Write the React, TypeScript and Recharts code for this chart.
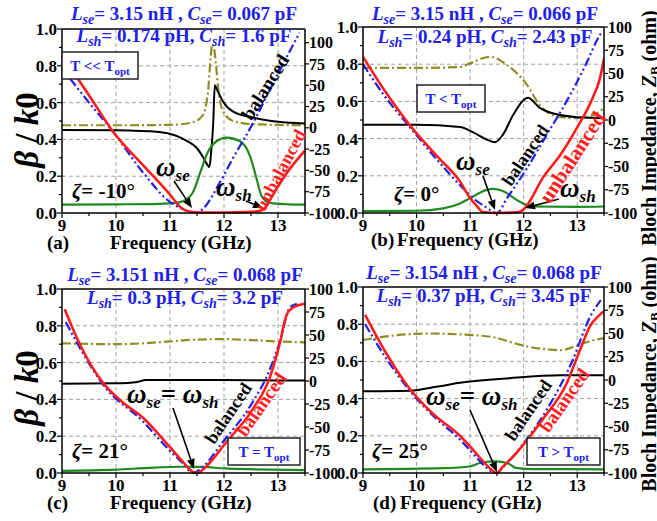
import React from "react";
import { LineChart, Line, XAxis, YAxis, CartesianGrid, ReferenceLine } from "recharts";

type Pt = [number, number];

const FONT = "'Liberation Serif', 'Times New Roman', Times, serif";
const BLUE = "#2020e8";
const RED = "#ff1c1c";
const GREEN = "#1e8a1e";
const OLIVE = "#8e8e24";

const freqTicks = [9, 9.5, 10, 10.5, 11, 11.5, 12, 12.5, 13, 13.5];
const betaTicks = [0, 0.1, 0.2, 0.3, 0.4, 0.5, 0.6, 0.7, 0.8, 0.9, 1];
const zTicks = [-100, -75, -50, -25, 0, 25, 50, 75, 100];

// circuit parameters per panel (a..d)
const lse = ["3.15", "3.15", "3.151", "3.154"];
const cse = ["0.067", "0.066", "0.068", "0.068"];
const lsh = ["0.174", "0.24", "0.3", "0.37"];
const csh = ["1.6", "2.43", "3.2", "3.45"];
const zetas = ["-10", "0", "21", "25"];
const tRel = ["<<", "<", "=", ">"];
const letters = ["(a)", "(b)", "(c)", "(d)"];

// (a) zeta = -10
const aBlue: Pt[] = [[9.15, 0.73], [9.5, 0.6], [9.95, 0.44], [10.5, 0.22], [11.0, 0.06], [11.25, 0.02], [11.45, 0], [11.6, 0.02], [11.93, 0.17], [12.17, 0.3], [12.54, 0.49], [12.9, 0.7], [13.22, 0.88], [13.4, 0.98]];
const aRed: Pt[] = [[9.2, 0.77], [9.5, 0.64], [9.95, 0.44], [10.5, 0.26], [11.0, 0.1], [11.2, 0.03], [11.35, 0.008], [11.6, 0.003], [12.0, 0.003], [12.4, 0.005], [12.65, 0.01], [12.75, 0.025], [12.85, 0.07], [12.95, 0.12], [13.17, 0.22], [13.5, 0.34]];
const aBlack: Pt[] = [[9, -2.5], [10, -3], [10.8, -5], [11.1, -9], [11.3, -15], [11.5, -24], [11.6, -33], [11.7, -44], [11.73, -46], [11.76, -30], [11.8, 5], [11.83, 50], [11.87, 45], [11.98, 31], [12.17, 19], [12.54, 12], [13.0, 7], [13.5, 5]];
const aOlive: Pt[] = [[9, 3], [10, 3], [11, 3.5], [11.4, 6], [11.6, 14], [11.7, 40], [11.75, 80], [11.78, 98], [11.81, 95], [11.85, 75], [11.9, 42], [11.98, 20], [12.17, 8], [12.6, 4], [13.5, 3]];
const aGreen: Pt[] = [[9, 0.045], [10, 0.047], [10.8, 0.05], [11.1, 0.055], [11.25, 0.065], [11.43, 0.115], [11.56, 0.22], [11.7, 0.33], [11.86, 0.39], [12.05, 0.41], [12.3, 0.39], [12.48, 0.31], [12.6, 0.19], [12.7, 0.09], [12.85, 0.055], [13.2, 0.047], [13.5, 0.045]];

// (b) zeta = 0
const bBlue: Pt[] = [[9, 0.8], [9.4, 0.63], [9.88, 0.46], [10.4, 0.28], [10.81, 0.15], [11.1, 0.07], [11.3, 0.03], [11.5, 0], [11.69, 0.08], [12.06, 0.24], [12.43, 0.42], [12.8, 0.6], [13.18, 0.81], [13.37, 0.93], [13.45, 0.97]];
const bRed: Pt[] = [[9, 0.84], [9.4, 0.66], [9.88, 0.47], [10.4, 0.3], [10.81, 0.17], [11.0, 0.08], [11.12, 0.04], [11.24, 0.005], [11.5, 0], [11.9, 0.005], [12.0, 0.02], [12.06, 0.04], [12.36, 0.19], [12.68, 0.31], [13.0, 0.46], [13.29, 0.62], [13.42, 0.72], [13.5, 0.83]];
const bBlack: Pt[] = [[9, -5], [10, -5], [10.81, -7.5], [11.05, -13], [11.31, -21], [11.46, -24], [11.61, -16], [11.8, 5], [11.99, 21], [12.08, 24], [12.3, 13], [12.49, 8], [13, 3], [13.5, 2]];
const bOlive: Pt[] = [[9, 56], [10, 56], [10.81, 57], [11, 61], [11.37, 68], [11.69, 59], [12.06, 38], [12.3, 16], [12.55, 5], [12.93, 2], [13.29, 5], [13.5, 13]];
const bGreen: Pt[] = [[9, 0.01], [10, 0.012], [10.5, 0.025], [10.8, 0.05], [11.0, 0.08], [11.31, 0.124], [11.43, 0.13], [11.6, 0.12], [11.93, 0.06], [12.17, 0.035], [13, 0.033], [13.5, 0.035]];

// (c) zeta = 21
const cBlue: Pt[] = [[9.07, 0.82], [9.33, 0.68], [9.76, 0.48], [10.5, 0.28], [11.0, 0.12], [11.25, 0.05], [11.42, 0], [11.6, 0.03], [11.93, 0.15], [12.54, 0.39], [12.8, 0.53], [13.03, 0.71], [13.22, 0.9], [13.35, 0.92]];
const cRed: Pt[] = [[9.05, 0.89], [9.33, 0.7], [9.76, 0.49], [10.1, 0.39], [10.5, 0.3], [11.0, 0.14], [11.24, 0.06], [11.43, 0.005], [11.52, 0], [11.6, 0.016], [12.05, 0.17], [12.54, 0.35], [12.85, 0.52], [13.03, 0.7], [13.16, 0.86], [13.28, 0.9], [13.5, 0.92]];
const cBlack: Pt[] = [[9, -3], [10, -2.5], [10.4, -1], [10.55, 1], [11, 1], [12, 1], [13, 0.5], [13.5, 0.5]];
const cOlive: Pt[] = [[9, 41], [10, 40], [10.5, 41], [11, 43], [11.5, 45], [12, 45.5], [12.5, 44.5], [13, 43], [13.5, 42]];
const cGreen: Pt[] = [[9, 0.012], [10, 0.018], [10.6, 0.028], [11.2, 0.034], [11.6, 0.033], [12, 0.025], [12.6, 0.02], [13.5, 0.016]];

// (d) zeta = 25
const dBlue: Pt[] = [[9.04, 0.8], [9.4, 0.63], [9.88, 0.44], [10.3, 0.31], [10.81, 0.18], [11.1, 0.09], [11.3, 0.03], [11.48, 0], [11.65, 0.04], [12.0, 0.16], [12.43, 0.34], [12.92, 0.61], [13.24, 0.84], [13.44, 0.93]];
const dRed: Pt[] = [[9.04, 0.85], [9.4, 0.66], [9.88, 0.45], [10.3, 0.32], [10.81, 0.2], [11.1, 0.11], [11.3, 0.045], [11.43, 0.01], [11.5, 0], [11.6, 0.03], [11.87, 0.11], [12.36, 0.29], [12.8, 0.48], [13.05, 0.66], [13.24, 0.79], [13.42, 0.85], [13.5, 0.87]];
const dBlack: Pt[] = [[9, -12], [9.88, -11.5], [10.4, -7], [10.81, -3], [11.74, 2], [12.68, 5], [13.5, 5]];
const dOlive: Pt[] = [[9, 43], [9.6, 48], [10.2, 50], [10.81, 49], [11.44, 46], [11.74, 41], [12.07, 36], [12.43, 33], [12.7, 32], [12.99, 37], [13.25, 42], [13.5, 45]];
const dGreen: Pt[] = [[9, 0.02], [10.5, 0.026], [11.0, 0.035], [11.2, 0.055], [11.48, 0.062], [11.72, 0.05], [11.85, 0.028], [12.2, 0.021], [13.5, 0.02]];

const LW = 45;
const RW = 45;
const MT = 10;
const XH = 35;

const toData = (a: Pt[]) => a.map(([f, v]) => ({ f, v }));

const tickText = { fontFamily: FONT, fontWeight: 700, fill: "#000" } as const;

function LeftTick(p: any) {
  const v = p.payload.value;
  const major = Math.round(v * 10) % 2 === 0;
  return (
    <g>
      <line x1={p.ax - (major ? 5 : 3)} x2={p.ax} y1={p.y} y2={p.y} stroke="#000" strokeWidth={1.2} />
      {major && (
        <text x={p.ax - 5} y={p.y} dy="0.35em" textAnchor="end" fontSize={17} {...tickText}>
          {v.toFixed(1)}
        </text>
      )}
    </g>
  );
}

function RightTick(p: any) {
  const v = p.payload.value;
  return (
    <g>
      <line x1={p.ax} x2={p.ax + 4} y1={p.y} y2={p.y} stroke="#000" strokeWidth={1.2} />
      <text x={p.ax + 4} y={p.y} dy="0.35em" textAnchor="start" fontSize={16} {...tickText}>
        {v}
      </text>
    </g>
  );
}

function BottomTick(p: any) {
  const v = p.payload.value;
  const major = Number.isInteger(v);
  return (
    <g>
      <line x1={p.x} x2={p.x} y1={p.ay} y2={p.ay + (major ? 5 : 3)} stroke="#000" strokeWidth={1.2} />
      {major && (
        <text x={p.x} y={p.ay + 6} dy="0.71em" textAnchor="middle" fontSize={17} {...tickText}>
          {v}
        </text>
      )}
    </g>
  );
}

type Box = { l: number; r: number; t: number; b: number };

function Panel(props: {
  box: Box;
  zDomain: [number, number];
  blue: Pt[];
  red: Pt[];
  black: Pt[];
  olive: Pt[];
  green: Pt[];
}) {
  const { box, zDomain } = props;
  const W = box.r - box.l + LW + RW;
  const H = box.b - box.t + MT + XH;
  const rx = W - RW;
  const by = H - XH;
  const axisLine = { stroke: "#000", strokeWidth: 1.5 };
  return (
    <div style={{ position: "absolute", left: box.l - LW, top: box.t - MT }}>
      <LineChart width={W} height={H} margin={{ top: MT, right: 0, bottom: 0, left: 0 }}>
        <CartesianGrid
          yAxisId="b"
          stroke="#a0a0a0"
          strokeDasharray="4 3"
          horizontalValues={[0.2, 0.4, 0.6, 0.8]}
          verticalValues={[10, 11, 12, 13]}
        />
        <XAxis
          dataKey="f"
          type="number"
          domain={[9, 13.5]}
          ticks={freqTicks}
          interval={0}
          height={XH}
          allowDataOverflow
          tickLine={false}
          axisLine={axisLine}
          tick={(p: any) => <BottomTick {...p} ay={by} />}
        />
        <YAxis
          yAxisId="b"
          domain={[0, 1]}
          ticks={betaTicks}
          interval={0}
          width={LW}
          tickLine={false}
          axisLine={axisLine}
          tick={(p: any) => <LeftTick {...p} ax={LW} />}
        />
        <YAxis
          yAxisId="z"
          orientation="right"
          domain={zDomain}
          ticks={zTicks}
          interval={0}
          width={RW}
          allowDataOverflow
          tickLine={false}
          axisLine={axisLine}
          tick={(p: any) => <RightTick {...p} ax={rx} />}
        />
        <ReferenceLine yAxisId="b" y={1} stroke="#000" strokeWidth={1.5} />
        <Line yAxisId="z" data={toData(props.olive)} dataKey="v" type="monotone" stroke={OLIVE} strokeWidth={2.2} strokeDasharray="9 3 2 3" dot={false} activeDot={false} isAnimationActive={false} />
        <Line yAxisId="z" data={toData(props.black)} dataKey="v" type="monotone" stroke="#000" strokeWidth={2} dot={false} activeDot={false} isAnimationActive={false} />
        <Line yAxisId="b" data={toData(props.green)} dataKey="v" type="monotone" stroke={GREEN} strokeWidth={2.2} dot={false} activeDot={false} isAnimationActive={false} />
        <Line yAxisId="b" data={toData(props.blue)} dataKey="v" type="monotone" stroke={BLUE} strokeWidth={2.2} strokeDasharray="9 3 2 3 2 3" dot={false} activeDot={false} isAnimationActive={false} />
        <Line yAxisId="b" data={toData(props.red)} dataKey="v" type="monotone" stroke={RED} strokeWidth={2.6} dot={false} activeDot={false} isAnimationActive={false} />
      </LineChart>
    </div>
  );
}

const boxes: Box[] = [
  { l: 62, r: 305, t: 29, b: 213 },
  { l: 363, r: 604, t: 27, b: 213 },
  { l: 62, r: 305, t: 289, b: 473 },
  { l: 363, r: 604, t: 287, b: 473 },
];

function Arrow({ x1, y1, x2, y2 }: { x1: number; y1: number; x2: number; y2: number }) {
  const a = Math.atan2(y2 - y1, x2 - x1);
  const L = 10;
  const w = 4;
  const bx = x2 - L * Math.cos(a);
  const byy = y2 - L * Math.sin(a);
  const p1 = `${bx + w * Math.sin(a)},${byy - w * Math.cos(a)}`;
  const p2 = `${bx - w * Math.sin(a)},${byy + w * Math.cos(a)}`;
  return (
    <g>
      <line x1={x1} y1={y1} x2={bx} y2={byy} stroke="#000" strokeWidth={1.6} />
      <polygon points={`${x2},${y2} ${p1} ${p2}`} fill="#000" />
    </g>
  );
}

function Rot({ x, y, a, size, color, children }: any) {
  return (
    <text
      transform={`translate(${x},${y}) rotate(${a})`}
      textAnchor="middle"
      dy="0.35em"
      fontFamily={FONT}
      fontWeight={700}
      fontSize={size}
      fill={color}
    >
      {children}
    </text>
  );
}

function Params({ i, cx, y1, y2 }: { i: number; cx: number; y1: number; y2: number }) {
  const s = 19;
  const sub = 14;
  const common = { fontFamily: FONT, fontWeight: 700, fontSize: s, fill: BLUE, textAnchor: "middle" as const };
  return (
    <g>
      <text x={cx} y={y1} {...common}>
        <tspan fontStyle="italic">L</tspan>
        <tspan fontStyle="italic" fontSize={sub} dy={4}>se</tspan>
        <tspan dy={-4}>{`= ${lse[i]} nH , `}</tspan>
        <tspan fontStyle="italic">C</tspan>
        <tspan fontStyle="italic" fontSize={sub} dy={4}>se</tspan>
        <tspan dy={-4}>{`= ${cse[i]} pF`}</tspan>
      </text>
      <text x={cx} y={y2} {...common}>
        <tspan fontStyle="italic">L</tspan>
        <tspan fontStyle="italic" fontSize={sub} dy={4}>sh</tspan>
        <tspan dy={-4}>{`= ${lsh[i]} pH, `}</tspan>
        <tspan fontStyle="italic">C</tspan>
        <tspan fontStyle="italic" fontSize={sub} dy={4}>sh</tspan>
        <tspan dy={-4}>{`= ${csh[i]} pF`}</tspan>
      </text>
    </g>
  );
}

function TBox({ i, x, y, w }: { i: number; x: number; y: number; w: number }) {
  return (
    <g>
      <rect x={x} y={y} width={w} height={27} fill="#fff" stroke="#222" strokeWidth={1.5} />
      <text x={x + w / 2} y={y + 19} textAnchor="middle" fontFamily={FONT} fontWeight={700} fontSize={15} fill={BLUE}>
        {`T ${tRel[i]} T`}
        <tspan fontSize={11} dy={4}>opt</tspan>
      </text>
    </g>
  );
}

function Zeta({ i, x, y }: { i: number; x: number; y: number }) {
  return (
    <text x={x} y={y} fontFamily={FONT} fontWeight={700} fontSize={21} fill="#000">
      <tspan fontStyle="italic">ζ</tspan>
      {`= ${zetas[i]}°`}
    </text>
  );
}

function Omega({ x, y, sub }: { x: number; y: number; sub: string }) {
  return (
    <text x={x} y={y} fontFamily={FONT} fontWeight={700} fontStyle="italic" fontSize={27} fill="#000">
      ω<tspan fontSize={17} dy={5}>{sub}</tspan>
    </text>
  );
}

function OmegaEq({ x, y }: { x: number; y: number }) {
  return (
    <text x={x} y={y} fontFamily={FONT} fontWeight={700} fontSize={27} fill="#000">
      <tspan fontStyle="italic">ω</tspan>
      <tspan fontStyle="italic" fontSize={17} dy={5}>se</tspan>
      <tspan dy={-5}>= </tspan>
      <tspan fontStyle="italic">ω</tspan>
      <tspan fontStyle="italic" fontSize={17} dy={5}>sh</tspan>
    </text>
  );
}

function BetaLabel({ y }: { y: number }) {
  return (
    <text transform={`translate(38,${y}) rotate(-90)`} textAnchor="middle" fontFamily={FONT} fontWeight={700} fontSize={33} fill="#000">
      <tspan fontStyle="italic">β</tspan>
      {" / "}
      <tspan fontStyle="italic">k</tspan>0
    </text>
  );
}

function BlochLabel({ y }: { y: number }) {
  return (
    <text transform={`translate(656,${y}) rotate(-90)`} textAnchor="middle" fontFamily={FONT} fontWeight={700} fontSize={20} fill="#000">
      {"Bloch Impedance, "}
      <tspan fontStyle="italic">Z</tspan>
      <tspan fontSize={13} dy={3}>B</tspan>
      <tspan dy={-3}> (ohm)</tspan>
    </text>
  );
}

function Bottom({ i, lx, fx, y }: { i: number; lx: number; fx: number; y: number }) {
  return (
    <g fontFamily={FONT} fontWeight={700} fontSize={19} fill="#000">
      <text x={lx} y={y}>{letters[i]}</text>
      <text x={fx} y={y}>Frequency (GHz)</text>
    </g>
  );
}

export default function App() {
  return (
    <div style={{ position: "absolute", left: 0, top: 0, width: 657, height: 521, background: "#fff", overflow: "hidden" }}>
      <Panel box={boxes[0]} zDomain={[-100, 116]} blue={aBlue} red={aRed} black={aBlack} olive={aOlive} green={aGreen} />
      <Panel box={boxes[1]} zDomain={[-100, 100]} blue={bBlue} red={bRed} black={bBlack} olive={bOlive} green={bGreen} />
      <Panel box={boxes[2]} zDomain={[-100, 100]} blue={cBlue} red={cRed} black={cBlack} olive={cOlive} green={cGreen} />
      <Panel box={boxes[3]} zDomain={[-100, 100]} blue={dBlue} red={dRed} black={dBlack} olive={dOlive} green={dGreen} />
      <svg width={657} height={521} style={{ position: "absolute", left: 0, top: 0, pointerEvents: "none" }}>
        <BetaLabel y={130} />
        <BetaLabel y={388} />
        <BlochLabel y={128} />
        <BlochLabel y={374} />

        <Params i={0} cx={184} y1={20} y2={42} />
        <Params i={1} cx={485} y1={20} y2={43} />
        <Params i={2} cx={185} y1={281} y2={304} />
        <Params i={3} cx={484} y1={279} y2={302} />

        <TBox i={0} x={62} y={52} w={76} />
        <TBox i={1} x={417} y={85} w={68} />
        <TBox i={2} x={228} y={438} w={72} />
        <TBox i={3} x={527} y={438} w={73} />

        <Zeta i={0} x={72} y={198} />
        <Zeta i={1} x={394} y={201} />
        <Zeta i={2} x={72} y={458} />
        <Zeta i={3} x={372} y={458} />

        <Omega x={156} y={176} sub="se" />
        <Arrow x1={174} y1={181} x2={192} y2={208} />
        <Omega x={216} y={196} sub="sh" />
        <Arrow x1={246} y1={201} x2={263} y2={208} />
        <Rot x={265} y={87} a={-58} size={19} color="#000">balanced</Rot>
        <Rot x={280} y={170} a={-62} size={18} color={RED}>unbalanced</Rot>

        <Omega x={456} y={170} sub="se" />
        <Arrow x1={483} y1={176} x2={495} y2={210} />
        <Omega x={560} y={197} sub="sh" />
        <Arrow x1={559} y1={199} x2={525} y2={208} />
        <Rot x={525} y={155} a={-56} size={18} color="#000">balanced</Rot>
        <Rot x={572} y={157} a={-57} size={21} color={RED}>unbalanced</Rot>

        <OmegaEq x={127} y={403} />
        <Arrow x1={173} y1={408} x2={194} y2={469} />
        <Rot x={228} y={413} a={-56} size={18} color="#000">balanced</Rot>
        <Rot x={261} y={404} a={-55} size={19} color={RED}>balanced</Rot>

        <OmegaEq x={426} y={405} />
        <Arrow x1={470} y1={410} x2={497} y2={472} />
        <Rot x={528} y={410} a={-56} size={18} color="#000">balanced</Rot>
        <Rot x={564} y={400} a={-55} size={19} color={RED}>balanced</Rot>

        <Bottom i={0} lx={47} fx={110} y={249} />
        <Bottom i={1} lx={371} fx={397} y={246} />
        <Bottom i={2} lx={47} fx={110} y={509} />
        <Bottom i={3} lx={373} fx={400} y={509} />
      </svg>
    </div>
  );
}
